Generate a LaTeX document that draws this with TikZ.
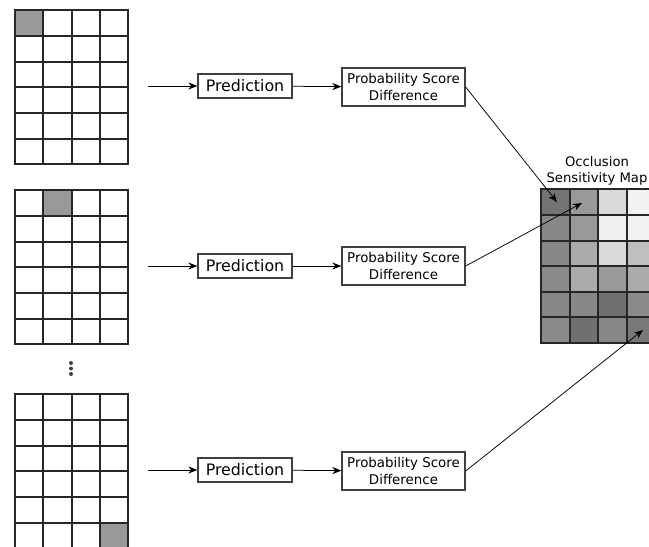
\documentclass[tikz,border=0pt]{standalone}
\usepackage{fontspec}
\setmainfont{DejaVu Sans}
\usetikzlibrary{arrows.meta}
\begin{document}
\begin{tikzpicture}[x=1pt,y=-1pt,
  gridline/.style={draw=black!85, line width=2pt},
  box/.style={draw=black!75, line width=1.3pt, fill=white, inner sep=0pt, align=center},
  predbox/.style={box, minimum width=94pt, minimum height=24pt, font=\fontsize{15.8}{18}\selectfont},
  diffbox/.style={box, minimum width=123pt, minimum height=38pt, font=\fontsize{13.4}{16.8}\selectfont},
  arr/.style={-{Stealth[length=9pt,width=7pt]}, line width=0.75pt}]
\useasboundingbox (0,0) rectangle (649,547);

% input grids: top y / shaded column / shaded row
\foreach \top/\sc/\sr in {10/0/0, 190/1/0, 394/3/5} {
  \fill[black!40] ({15+\sc*28.25},{\top+\sr*25.67}) rectangle ++(28.25,25.67);
  \foreach \x in {43,72,100} \draw[gridline] (\x,\top) -- ++(0,154);
  \foreach \dy in {26,52,77,103,129} \draw[gridline] (15,{\top+\dy}) -- ++(113,0);
  \draw[gridline] (15,\top) rectangle ++(113,154);
}

% vertical dots
\foreach \y in {363,368.5,374} \fill[black!75] (71,\y) circle (2);

% occlusion sensitivity map
\foreach \r/\vals in {0/{55,40,15,5}, 1/{47,40,6,5}, 2/{47,33,15,25},
                      3/{46,33,40,33}, 4/{47,47,56,46}, 5/{46,56,47,53}} {
  \foreach \g [count=\c from 0] in \vals {
    \fill[black!\g] ({541+\c*28.5},{189+\r*25.67}) rectangle ++(28.5,25.67);
  }
}
\foreach \x in {570,598,627} \draw[gridline] (\x,189) -- ++(0,154);
\foreach \y in {215,241,266,292,317} \draw[gridline] (541,\y) -- ++(114,0);
\draw[gridline] (541,189) rectangle ++(114,154);

\node[font=\fontsize{13.2}{16}\selectfont, align=center] (lbl) at (597,171) {Occlusion\\Sensitivity Map};

% rows of processing
\node[predbox] (p1) at (245,86) {Prediction};
\node[diffbox] (d1) at (403.5,87) {Probability Score\\Difference};
\node[predbox] (p2) at (245,266) {Prediction};
\node[diffbox] (d2) at (403.5,266) {Probability Score\\Difference};
\node[predbox] (p3) at (245,470) {Prediction};
\node[diffbox] (d3) at (403.5,471) {Probability Score\\Difference};

\coordinate (g1) at (148,86);
\coordinate (g2) at (148,266);
\coordinate (g3) at (148,470);
\coordinate (m1) at (557,202);
\coordinate (m2) at (582,203);
\coordinate (m3) at (643,330);

\draw[arr] (g1) -- (p1);
\draw[arr] (p1) -- (d1);
\draw[arr] (d1.east) -- (m1);
\draw[arr] (g2) -- (p2);
\draw[arr] (p2) -- (d2);
\draw[arr] (d2.east) -- (m2);
\draw[arr] (g3) -- (p3);
\draw[arr] (p3) -- (d3);
\draw[arr] (d3.east) -- (m3);
\end{tikzpicture}
\end{document}
